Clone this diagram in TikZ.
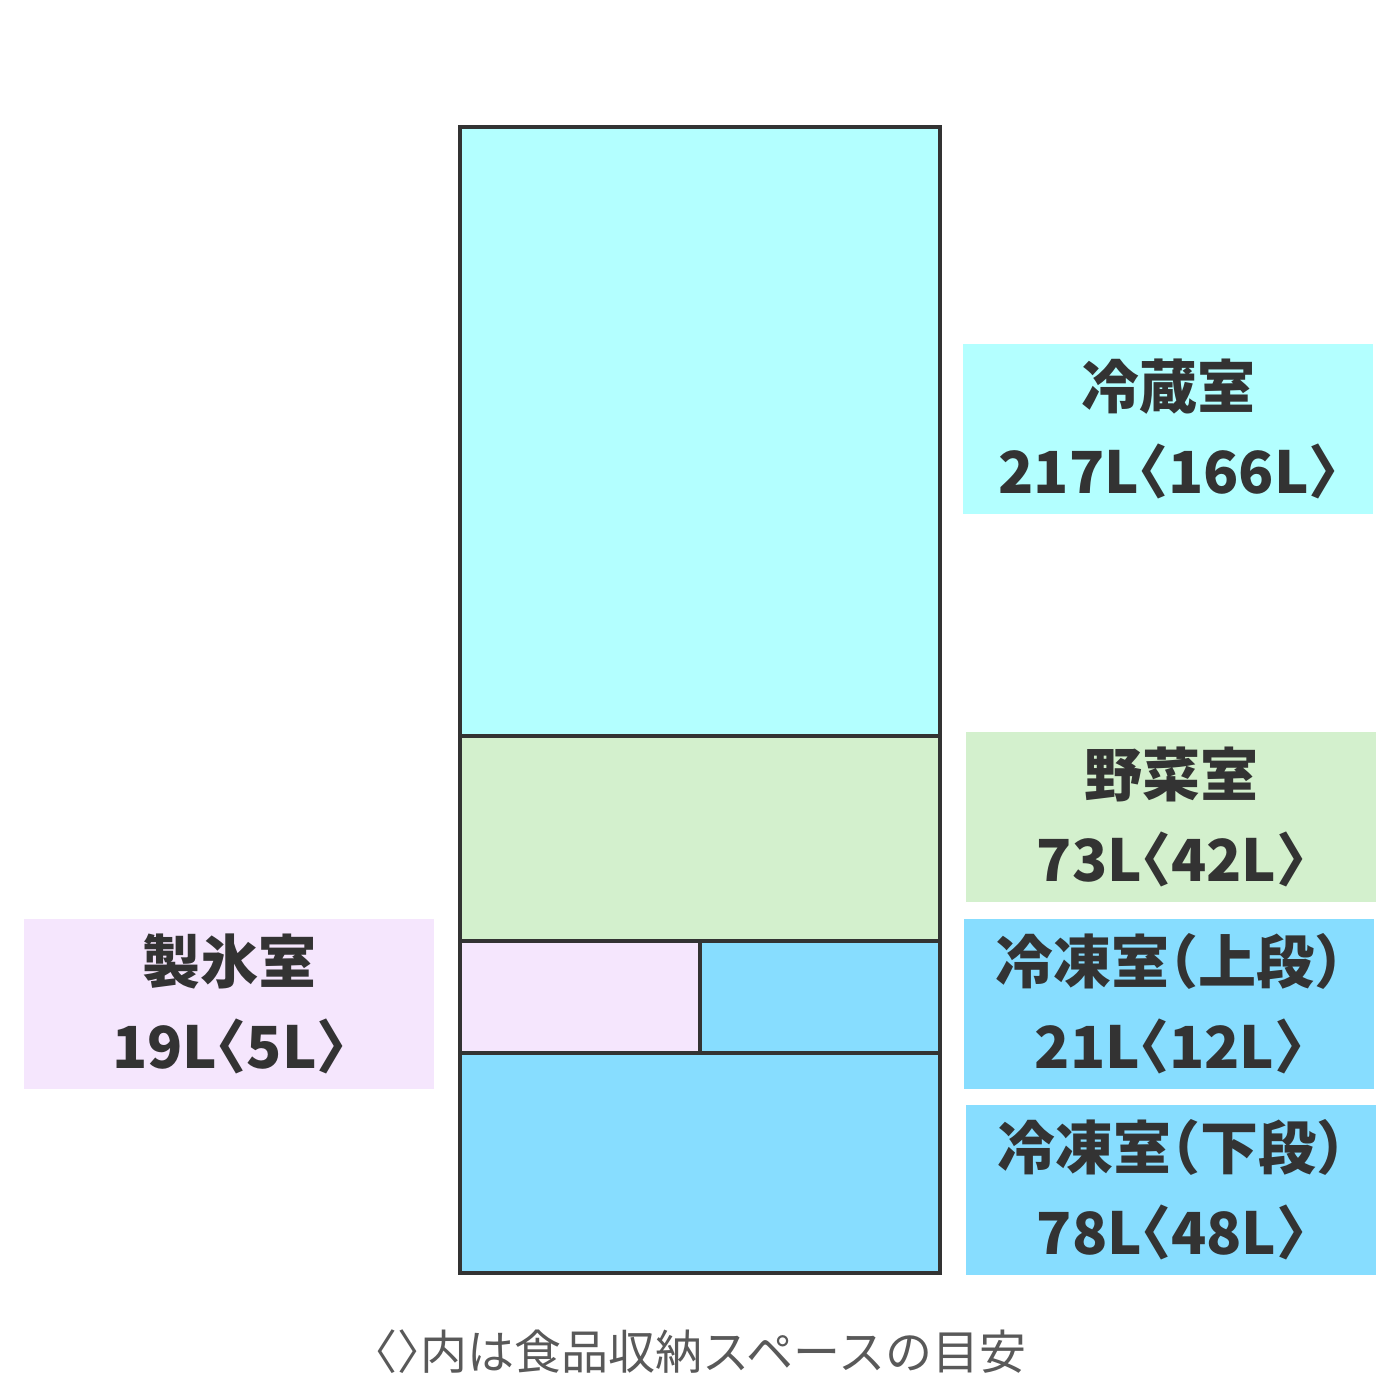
\documentclass[tikz,border=0pt]{standalone}
\usepackage{fontspec}
\newfontfamily\jp{Noto Sans CJK JP}
\newcommand{\hw}[1]{{\addfontfeature{RawFeature=+halt}#1}}
\definecolor{fridgecol}{HTML}{B3FFFF}
\definecolor{vegcol}{HTML}{D3F0CD}
\definecolor{icecol}{HTML}{F5E6FD}
\definecolor{freezecol}{HTML}{87DDFF}
\definecolor{inkcol}{HTML}{333333}
\definecolor{notecol}{HTML}{595959}
\begin{document}
\begin{tikzpicture}[x=1pt,y=-1pt,
  comp/.style={draw=inkcol, line width=4pt, rectangle, inner sep=0pt, outer sep=0pt, anchor=north west},
  lbl/.style={rectangle, inner sep=0pt, outer sep=0pt, minimum width=410pt, minimum height=170pt, align=center, text=inkcol,
    font=\jp\bfseries\fontsize{58}{85}\selectfont}]
\useasboundingbox (0,0) rectangle (1400,1400);
\fill[white] (0,0) rectangle (1400,1400);
% compartments
\node[comp, fill=fridgecol, minimum width=480pt, minimum height=609pt] (reizo) at (460,127) {};
\node[comp, fill=vegcol, minimum width=480pt, minimum height=205pt] (yasai) at (460,736) {};
\node[comp, fill=icecol, minimum width=240pt, minimum height=112pt] (ice) at (460,941) {};
\node[comp, fill=freezecol, minimum width=240pt, minimum height=112pt] (upper) at (700,941) {};
\node[comp, fill=freezecol, minimum width=480pt, minimum height=220pt] (lower) at (460,1053) {};
% labels
\node[lbl, fill=fridgecol] (lreizo) at (1168,429) {冷蔵室\\217L\hw{〈}166L\hw{〉}};
\node[lbl, fill=vegcol] (lyasai) at (1171,817) {野菜室\\73L\hw{〈}42L\hw{〉}};
\node[lbl, fill=freezecol] (lupper) at (1169,1004) {冷凍室\hw{（}上段\hw{）}\\21L\hw{〈}12L\hw{〉}};
\node[lbl, fill=freezecol] (llower) at (1171,1190) {冷凍室\hw{（}下段\hw{）}\\78L\hw{〈}48L\hw{〉}};
\node[lbl, fill=icecol] (lice) at (229,1004) {製氷室\\19L\hw{〈}5L\hw{〉}};
% note
\node[text=notecol, font=\jp\fontsize{47}{52}\selectfont, inner sep=0pt] (note) at (700,1352) {\hw{〈〉}内は食品収納スペースの目安};
\end{tikzpicture}
\end{document}
